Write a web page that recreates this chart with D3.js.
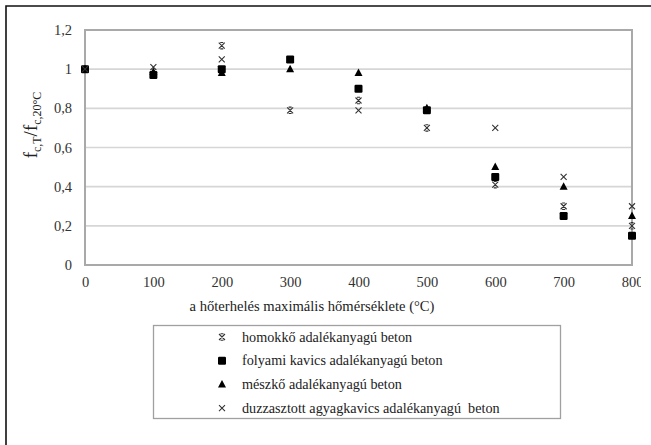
<!DOCTYPE html>
<html><head><meta charset="utf-8">
<script src="https://cdn.jsdelivr.net/npm/d3@7"></script>
<style>body{margin:0;background:#fff}svg{display:block}</style>
</head><body>
<script>
const temps = [0,100,200,300,400,500,600,700,800];
const homokko   = [1.00, null, 1.12, 0.79, 0.84, 0.70, 0.41, 0.30, 0.20];
const folyami   = [1.00, 0.97, 1.00, 1.05, 0.90, 0.79, 0.45, 0.25, 0.15];
const meszko    = [1.00, 0.985, 0.98, 1.00, 0.98, 0.80, 0.50, 0.40, 0.25];
const duzzasztott = [1.00, 1.01, 1.05, null, 0.79, null, 0.70, 0.45, 0.30];
const yTicks = [0,0.2,0.4,0.6,0.8,1,1.2];
const xTicks = [0,100,200,300,400,500,600,700,800];
const seriesNames = ["homokkő adalékanyagú beton","folyami kavics adalékanyagú beton","mészkő adalékanyagú beton","duzzasztott agyagkavics adalékanyagú  beton"];
const seriesShapes = ["star","square","triangle","cross"];
const seriesData = [homokko, folyami, meszko, duzzasztott];

const W=651,H=445;
const FF='"Liberation Serif"';
const svg=d3.select("body").append("svg").attr("width",W).attr("height",H);

svg.append("path").attr("d","M6,445V6H651").attr("fill","none").attr("stroke","#111").attr("stroke-width",1.6);

const L=85,R=632,T=30,B=265;
const x=d3.scaleLinear().domain([0,800]).range([L,R]);
const y=d3.scaleLinear().domain([0,1.2]).range([B,T]);

svg.append("g").selectAll("line").data(yTicks.filter(d=>d>0&&d<1.2)).join("line")
  .attr("x1",L).attr("x2",R).attr("y1",d=>y(d)).attr("y2",d=>y(d))
  .attr("stroke","#d6d6d6").attr("stroke-width",1.6);
svg.append("rect").attr("x",L).attr("y",T).attr("width",R-L).attr("height",B-T)
  .attr("fill","none").attr("stroke","#a9a9a9").attr("stroke-width",2);

const fmt=d=>String(d).replace(".",",");
const yAxis=d3.axisLeft(y).tickValues(yTicks).tickFormat(fmt).tickSize(0).tickPadding(13);
const gy=svg.append("g").attr("transform",`translate(${L},0)`).call(yAxis);
gy.select(".domain").remove();
gy.selectAll("text").style("font-family",FF).style("font-size","14.5px").attr("fill","#333");

svg.append("clipPath").attr("id","clipx").append("rect").attr("x",0).attr("y",0).attr("width",641).attr("height",H);
const xAxis=d3.axisBottom(x).tickValues(xTicks).tickFormat(d=>d).tickSize(0).tickPadding(12);
const gx=svg.append("g").attr("transform",`translate(0,${B})`).attr("clip-path","url(#clipx)").call(xAxis);
gx.select(".domain").remove();
gx.selectAll("text").style("font-family",FF).style("font-size","14.5px").attr("fill","#333");

svg.append("text").attr("x",312).attr("y",311).attr("text-anchor","middle")
  .style("font-family",FF).style("font-size","14.6px").attr("fill","#222")
  .text("a hőterhelés maximális hőmérséklete (°C)");

const yt=svg.append("text").attr("transform","translate(37,125) rotate(-90)").attr("text-anchor","middle")
  .style("font-family",FF).style("font-size","19px").attr("fill","#222");
yt.append("tspan").text("f");
yt.append("tspan").style("font-size","12px").attr("dy",4).text("c,T");
yt.append("tspan").attr("dy",-4).text("/f");
yt.append("tspan").style("font-size","12px").attr("dy",4).text("c,20°C");

function marker(g,shape,cx,cy){
  if(shape==="square"){
    g.append("rect").attr("x",cx-4).attr("y",cy-4).attr("width",8).attr("height",8).attr("rx",1.2).attr("fill","#000");
  } else if(shape==="triangle"){
    g.append("path").attr("d",`M${cx},${cy-4.5}L${cx+4},${cy+3}L${cx-4},${cy+3}Z`).attr("fill","#000");
  } else if(shape==="cross"){
    g.append("path").attr("d",`M${cx-3},${cy-3}L${cx+3},${cy+3}M${cx+3},${cy-3}L${cx-3},${cy+3}`).attr("stroke","#333").attr("stroke-width",1.1).attr("fill","none");
  } else {
    g.append("path").attr("d",`M${cx-3},${cy-3}L${cx+3},${cy+3}M${cx+3},${cy-3}L${cx-3},${cy+3}M${cx-1.5},${cy-3.2}H${cx+1.5}M${cx-1.5},${cy+3.2}H${cx+1.5}`).attr("stroke","#333").attr("stroke-width",1.1).attr("fill","none");
  }
}

const gp=svg.append("g");
seriesData.forEach((arr,i)=>{
  arr.forEach((v,j)=>{ if(v!=null) marker(gp,seriesShapes[i],x(temps[j]),y(v)); });
});

svg.append("rect").attr("x",153.5).attr("y",325.5).attr("width",407).attr("height",93)
  .attr("fill","#fff").attr("stroke","#a0a0a0").attr("stroke-width",1.3);
const lg=svg.append("g");
seriesNames.forEach((n,i)=>{
  const cy=337+i*23.7;
  marker(lg,seriesShapes[i],222,cy);
  lg.append("text").attr("x",242).attr("y",cy+4.5).style("font-family",FF).style("font-size","14.2px")
    .attr("fill","#222").style("white-space","pre").text(n);
});
</script>
</body></html>
